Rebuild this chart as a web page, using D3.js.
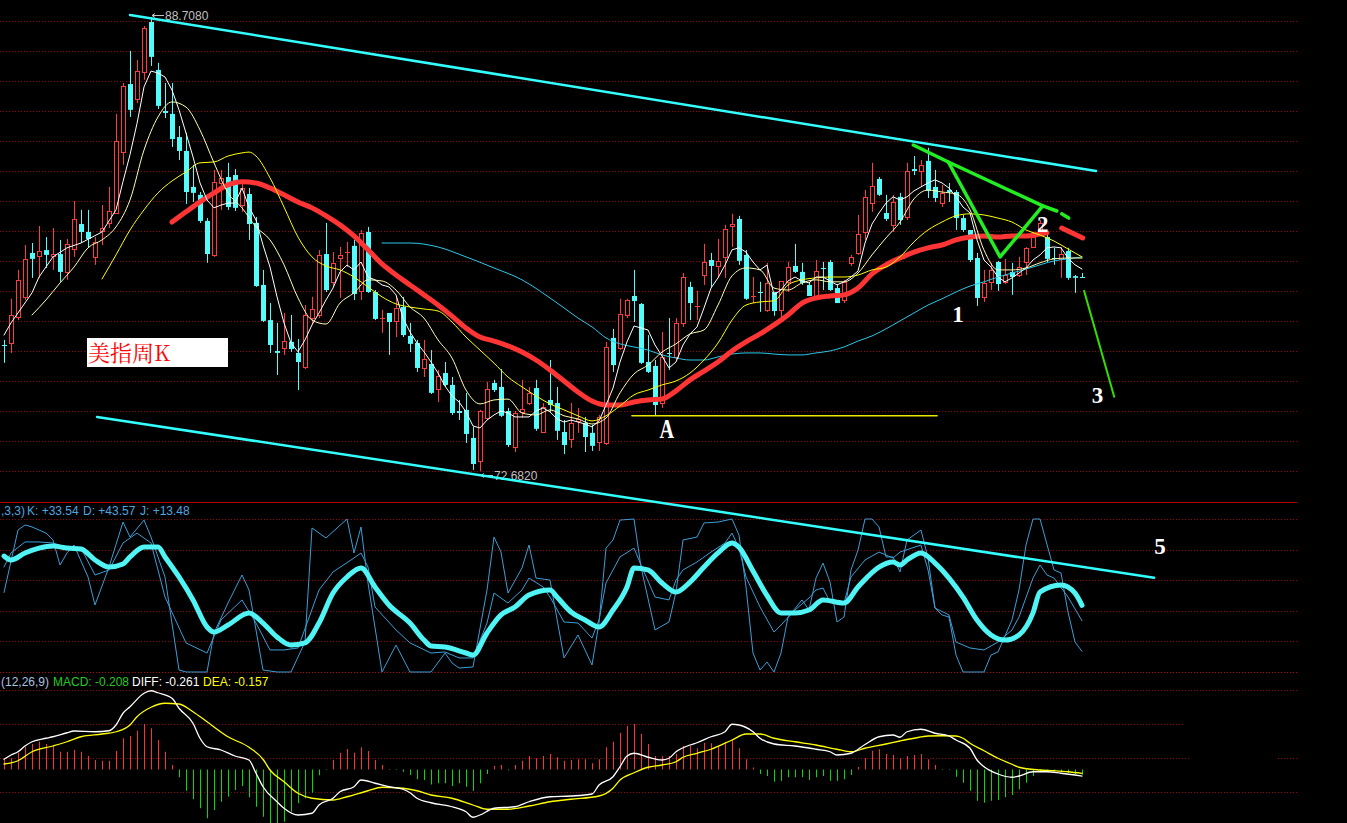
<!DOCTYPE html>
<html><head><meta charset="utf-8">
<script src="https://cdn.jsdelivr.net/npm/d3@7"></script>
<style>html,body{margin:0;padding:0;background:#000;overflow:hidden}</style>
</head><body>
<svg id="c" width="1347" height="823"></svg>
<script>
// ---------------- DATA ----------------
// weekly candles [open, high, low, close]
const ohlc = [
[77.13,77.31,76.50,77.10],[77.20,78.76,76.85,78.19],[78.12,79.78,78.01,79.43],[78.83,80.66,78.72,80.17],
[80.38,80.73,79.50,80.17],[80.27,81.33,79.50,80.45],[80.48,80.94,79.85,80.31],[80.27,81.26,79.78,80.34],
[80.34,80.84,79.36,79.71],[79.71,80.87,79.43,80.70],[80.52,82.21,80.24,81.58],[81.40,81.90,80.73,81.12],
[81.12,81.90,80.56,80.87],[80.24,80.94,79.96,80.77],[81.16,82.07,80.66,81.26],[81.44,82.71,81.26,81.86],
[81.79,85.29,81.76,84.33],[83.94,86.38,83.49,86.27],[86.34,87.51,85.18,85.43],[85.82,87.19,85.67,86.80],
[86.77,88.39,86.49,88.32],[88.53,88.708,86.98,87.30],[86.84,87.09,85.46,85.57],[85.39,86.38,85.14,85.32],
[85.29,86.38,84.12,84.40],[84.47,84.86,83.66,83.98],[83.98,84.62,82.11,82.53],[82.71,83.49,82.18,82.50],
[82.43,82.53,81.44,81.51],[81.51,81.61,80.03,80.34],[80.31,83.31,80.24,82.89],[82.85,83.31,81.90,83.03],
[83.06,83.56,81.90,82.00],[83.13,83.34,81.86,81.97],[82.07,82.85,81.83,82.67],[82.46,82.67,80.84,81.40],
[81.44,81.65,79.18,79.21],[79.25,79.78,77.94,77.98],[78.01,78.61,76.85,77.13],[76.92,77.91,76.07,76.85],
[77.03,78.26,76.78,77.27],[77.24,78.19,76.88,76.99],[76.85,77.34,75.54,76.53],[76.35,78.54,76.28,78.19],
[78.08,78.83,77.84,78.40],[78.19,80.48,78.08,80.31],[80.34,81.44,79.00,79.07],[79.36,80.41,79.18,80.03],
[80.20,80.59,78.79,80.31],[80.38,80.77,79.88,80.41],[80.63,80.84,78.72,78.93],[79.04,81.19,78.72,81.09],
[81.12,81.30,78.97,79.00],[79.00,79.07,78.01,78.05],[78.05,78.37,77.56,78.08],[78.26,78.26,76.78,77.94],
[77.98,78.83,77.41,78.44],[78.47,78.83,77.41,77.48],[77.45,77.91,76.88,77.17],[77.20,77.31,76.18,76.32],
[76.32,77.31,76.00,76.64],[76.46,76.95,75.40,75.44],[75.58,76.25,75.12,76.04],[76.14,76.53,75.65,75.72],
[75.72,76.00,74.66,74.73],[74.80,75.19,74.48,74.73],[74.84,75.44,73.67,73.99],[73.85,74.24,72.72,72.93],
[73.04,74.84,72.682,74.80],[74.55,75.83,74.48,75.58],[75.79,75.90,75.47,75.54],[75.65,76.28,74.59,74.63],
[74.80,74.91,73.53,73.60],[73.53,74.80,73.35,74.73],[74.77,75.90,74.55,74.87],[75.08,75.65,75.01,75.44],
[75.61,75.90,74.10,74.17],[74.06,75.08,74.03,74.94],[75.19,76.60,74.77,75.01],[75.08,75.65,73.78,74.10],
[74.06,74.48,73.28,73.60],[73.81,75.08,73.50,74.38],[74.45,74.91,74.03,74.52],[74.38,74.59,73.35,73.88],
[74.03,74.31,73.39,73.57],[73.71,74.66,73.39,74.59],[73.67,77.24,73.60,77.06],[77.38,77.70,76.18,76.42],
[77.03,78.76,76.95,78.23],[78.19,78.76,78.08,78.72],[78.86,79.78,77.94,78.68],[78.58,78.61,76.46,76.50],
[76.53,77.48,76.14,76.18],[76.39,76.60,74.63,75.01],[75.08,77.59,74.91,76.71],[76.85,78.08,76.25,76.81],
[76.71,78.08,76.60,77.91],[77.91,79.67,77.77,79.53],[79.18,79.36,78.01,78.61],[78.47,79.04,78.01,78.51],
[79.60,80.70,79.25,80.06],[80.13,80.38,79.18,79.92],[79.92,80.87,79.50,80.10],[80.24,81.37,79.50,81.23],
[81.33,81.76,80.59,81.40],[81.58,81.69,79.96,80.10],[80.31,80.48,78.72,78.76],[78.83,79.53,78.61,78.86],
[79.00,79.36,78.30,78.97],[78.37,80.03,78.30,79.32],[79.00,79.00,78.16,78.33],[78.37,79.39,78.08,79.39],
[79.36,80.06,79.00,79.88],[79.92,80.70,79.67,79.71],[79.71,80.03,79.25,79.32],[79.25,79.36,78.86,78.86],
[78.86,80.13,78.83,79.74],[79.85,80.06,79.07,79.81],[80.06,80.13,79.04,79.07],[79.14,79.28,78.61,78.61],
[78.72,79.43,78.61,79.36],[80.03,80.31,79.92,80.24],[80.38,81.72,80.31,81.05],[81.12,82.60,80.84,82.36],
[82.14,83.56,81.83,82.74],[82.99,83.06,82.39,82.43],[81.79,82.43,81.51,81.58],[81.37,82.43,81.12,82.18],
[82.36,82.50,81.37,81.54],[81.65,83.56,81.54,83.27],[83.34,83.80,83.13,83.27],[83.27,83.66,82.71,83.49],
[83.63,84.09,82.32,82.57],[82.71,83.31,82.18,82.32],[82.14,82.78,82.00,82.50],[82.60,82.85,82.18,82.53],
[82.53,82.60,81.19,81.61],[81.61,81.72,81.12,81.19],[81.19,81.19,80.06,80.13],[80.20,80.38,78.51,78.79],
[78.83,79.78,78.65,79.32],[79.36,80.03,79.07,79.78],[80.06,80.10,79.04,79.28],[79.36,80.17,79.28,79.60],
[79.71,80.03,78.90,79.53],[79.60,80.24,79.53,79.88],[80.06,80.59,79.60,80.56],[80.59,81.12,80.56,80.94],
[81.19,81.54,81.12,81.44],[80.94,81.09,80.06,80.17],[80.20,80.56,79.96,80.17],[80.17,80.59,79.50,80.34],
[80.45,80.56,79.43,79.50],[79.56,79.60,78.97,79.50],[79.53,79.67,79.50,79.53]
];

// moving averages: [week index, price]
const ma5 = [[0,77.48],[1,77.91],[4,78.97],[5,79.53],[7,80.24],[9,80.56],[11,80.73],[14,81.12],[16,81.9],[17,82.9],[18,83.85],[19,84.95],[20,86.24],[21,86.80],[22,86.73],[23,86.59],[24,86.13],[25,85.43],[26,84.61],[27,83.77],[28,82.85],[29,82.25],[30,81.97],[31,82.07],[32,82.14],[33,82.14],[34,82.67],[35,82.00],[36,81.54],[37,80.66],[38,79.88],[39,78.83],[40,77.91],[41,77.20],[42,76.89],[43,77.31],[44,77.84],[45,78.26],[46,78.72],[47,79.14],[48,79.71],[49,79.95],[50,79.78],[51,80.06],[52,79.53],[53,79.43],[54,79.25],[55,79.18],[56,78.90],[57,78.08],[58,77.59],[59,77.20],[60,76.89],[61,76.53],[62,76.14],[63,75.68],[64,75.33],[65,75.12],[66,74.77],[67,74.27],[68,74.20],[69,74.48],[70,74.66],[71,74.80],[72,74.73],[73,74.59],[74,74.59],[75,74.59],[76,74.80],[77,74.91],[78,74.77],[79,74.52],[80,74.41],[81,74.48],[82,74.41],[83,74.34],[84,74.24],[85,74.45],[86,75.01],[87,75.61],[88,76.53],[89,77.24],[90,77.80],[91,77.73],[92,77.66],[93,77.13],[94,76.74],[95,76.32],[96,76.53],[97,77.13],[98,77.52],[99,77.77],[100,78.44],[101,79.14],[102,79.50],[103,79.95],[104,80.49],[105,80.56],[106,80.41],[107,80.06],[108,79.78],[109,79.95],[110,78.90],[111,79.07],[112,79.39],[113,79.53],[114,79.39],[115,79.32],[116,79.53],[117,79.53],[118,79.39],[119,79.25],[120,79.36],[121,79.53],[122,79.74],[123,80.73],[124,81.40],[125,81.79],[126,82.14],[127,82.36],[128,82.25],[129,82.36],[130,82.57],[131,82.71],[132,82.85],[133,82.96],[134,82.85],[135,82.67],[136,82.36],[137,82.00],[138,81.79],[139,80.84],[140,80.13],[141,79.88],[142,79.53],[143,79.36],[144,79.50],[145,79.67],[146,79.85],[147,80.13],[148,80.31],[149,80.56],[150,80.59],[151,80.56],[152,80.20],[153,79.96],[154,79.81]];
const ma10 = [[4,78.19],[6,78.72],[8,79.32],[10,79.88],[12,80.56],[14,80.84],[16,81.30],[18,82.25],[20,84.01],[22,85.18],[24,85.71],[26,85.53],[28,84.72],[30,83.56],[32,82.50],[34,81.97],[36,81.30],[38,80.84],[40,79.96],[42,78.79],[44,78.01],[46,77.87],[48,78.61],[50,78.97],[52,79.43],[54,79.39],[56,79.07],[58,78.47],[60,78.08],[62,77.31],[64,76.67],[66,75.54],[68,75.05],[70,75.19],[72,75.22],[74,74.73],[76,74.66],[78,74.84],[80,74.63],[82,74.52],[84,74.34],[86,74.55],[88,75.44],[90,76.11],[92,76.42],[94,76.88],[96,77.17],[98,77.52],[100,77.66],[102,78.54],[104,79.57],[106,79.85],[108,79.78],[110,79.14],[112,79.07],[114,79.32],[116,79.43],[118,79.36],[120,79.36],[122,79.67],[124,80.31],[126,80.91],[128,81.47],[130,82.29],[132,82.60],[134,82.53],[136,82.46],[138,81.90],[140,80.48],[142,79.78],[144,79.78],[146,79.85],[148,80.03],[150,80.17],[152,80.20],[154,80.20]];
const ma20 = [[14,79.46],[16,80.31],[18,81.19],[20,81.90],[22,82.50],[24,82.92],[26,83.24],[28,83.56],[30,83.59],[32,83.80],[34,83.91],[35,83.94],[36,83.80],[38,83.03],[40,82.00],[42,80.94],[44,80.24],[46,79.92],[48,79.78],[50,79.53],[52,79.18],[54,78.83],[56,78.58],[58,78.47],[60,78.40],[62,78.33],[64,77.94],[66,77.41],[68,76.95],[70,76.49],[72,76.00],[74,75.65],[76,75.33],[78,75.05],[80,74.84],[82,74.63],[84,74.45],[86,74.63],[88,74.98],[90,75.37],[92,75.54],[94,75.72],[96,75.86],[98,76.14],[100,76.60],[102,77.20],[104,78.01],[106,78.54],[108,78.65],[110,78.69],[112,79.25],[114,79.43],[116,79.50],[118,79.53],[120,79.53],[122,79.60],[124,79.78],[126,79.88],[128,80.24],[130,80.77],[132,81.19],[134,81.47],[136,81.69],[138,81.76],[140,81.72],[142,81.61],[144,81.47],[146,81.19],[148,81.01],[150,80.80],[152,80.52],[154,80.24]];
const ma30 = [[24,81.47],[26,81.83],[28,82.18],[30,82.50],[32,82.78],[34,82.89],[36,82.85],[38,82.67],[40,82.43],[42,82.18],[44,81.97],[46,81.69],[48,81.37],[50,80.98],[52,80.49],[54,79.99],[56,79.60],[58,79.25],[60,78.90],[62,78.54],[64,78.15],[66,77.73],[68,77.41],[70,77.27],[72,77.10],[74,76.88],[76,76.60],[78,76.25],[80,75.86],[82,75.47],[84,75.15],[86,75.01],[88,75.01],[90,75.12],[92,75.19],[94,75.22],[96,75.51],[98,75.90],[100,76.21],[102,76.53],[104,76.92],[106,77.24],[108,77.52],[110,77.84],[112,78.19],[114,78.61],[116,78.79],[118,78.86],[120,78.90],[122,79.14],[124,79.64],[126,79.96],[128,80.20],[130,80.41],[132,80.56],[134,80.66],[136,80.84],[138,80.94],[140,80.98],[142,80.94],[144,80.98],[146,80.98],[148,81.05],[149,81.09]];
const ma60 = [[54,80.73],[58,80.73],[62,80.59],[66,80.24],[70,79.85],[74,79.43],[78,78.79],[80,78.44],[82,78.08],[84,77.77],[86,77.38],[88,77.17],[90,77.06],[92,76.95],[94,76.78],[96,76.67],[98,76.60],[100,76.60],[102,76.71],[104,76.81],[106,76.85],[108,76.85],[110,76.81],[112,76.78],[114,76.78],[116,76.85],[118,76.92],[120,77.06],[122,77.27],[124,77.45],[126,77.70],[128,77.98],[130,78.26],[132,78.54],[134,78.76],[136,79.00],[138,79.21],[140,79.36],[142,79.53],[144,79.67],[146,79.81],[148,79.96],[150,80.10],[152,80.17],[154,80.24]];

// KDJ(9,3,3): [week index, value]
const kdjK = [[0,68.6],[1,77.8],[3,85.0],[5,85.0],[7,84.3],[9,81.0],[11,81.0],[13,63.4],[15,66.7],[17,84.3],[19,90.8],[21,84.3],[23,49.0],[26,19.0],[29,12.4],[31,34.0],[34,47.1],[36,32.0],[38,14.4],[40,14.4],[42,15.7],[45,53.6],[47,65.4],[50,74.5],[51,77.8],[52,68.6],[53,42.5],[56,27.5],[58,19.0],[61,12.4],[63,13.1],[65,9.2],[67,9.2],[69,32.0],[70,51.6],[72,45.1],[74,53.6],[75,61.4],[77,55.6],[78,49.0],[80,32.7],[82,32.0],[84,22.2],[85,34.0],[86,58.2],[88,75.2],[90,81.0],[91,69.9],[93,49.0],[95,47.1],[96,60.1],[97,66.7],[99,71.9],[101,78.4],[103,84.3],[104,90.8],[105,81.0],[106,62.1],[108,42.5],[110,26.1],[111,30.7],[113,40.5],[115,48.4],[116,53.6],[117,54.9],[118,45.8],[120,45.1],[121,62.1],[123,73.2],[125,78.4],[127,74.5],[128,78.4],[131,83.0],[132,66.7],[133,41.8],[135,37.3],[136,19.6],[138,15.7],[140,14.4],[142,19.6],[144,27.5],[145,35.9],[147,61.4],[148,69.9],[149,63.4],[150,61.4],[152,49.0],[154,33.54]];
const kdjD = [[0,75.8],[1,73.2],[3,77.8],[5,81.0],[7,82.4],[9,81.0],[11,80.4],[13,73.2],[15,68.6],[17,70.6],[18,75.2],[20,81.7],[22,81.7],[23,75.2],[25,62.1],[27,47.1],[29,29.4],[30,26.1],[32,30.7],[35,38.6],[37,32.0],[39,22.9],[41,17.6],[43,19.0],[45,32.0],[47,51.6],[49,62.1],[51,68.0],[53,55.6],[55,43.8],[58,32.0],[60,20.9],[61,17.0],[63,16.3],[66,12.4],[67,11.1],[69,25.5],[71,37.3],[73,42.5],[75,50.3],[78,53.6],[79,49.0],[81,39.2],[83,34.0],[85,29.4],[87,40.5],[89,55.6],[90,68.0],[92,66.7],[94,58.2],[96,52.3],[98,58.8],[100,68.6],[102,77.8],[104,84.3],[105,81.5],[107,66.0],[109,50.0],[111,38.6],[113,38.6],[115,40.5],[117,47.1],[120,45.1],[122,55.6],[125,68.6],[127,71.9],[128,69.9],[129,73.2],[131,77.8],[133,71.2],[135,61.4],[137,49.0],[139,34.0],[141,24.2],[143,20.9],[145,24.2],[147,38.6],[148,52.3],[151,56.9],[153,51.6],[154,43.57]];
const kdjJ = [[0,52],[2,92.8],[3,96.1],[4,94.8],[6,90.8],[7,86.3],[8,69.9],[9,77.8],[10,83.0],[12,62.1],[13,43.8],[15,68.6],[17,98.0],[18,88.2],[20,99.3],[21,88.2],[23,62.1],[25,1.3],[26,0],[29,0],[30,25.5],[32,45.1],[34,63.4],[35,53.6],[37,1.3],[39,0],[41,0],[43,19.6],[44,94.1],[46,87.6],[49,100],[50,77.8],[51,94.8],[52,58.2],[54,0],[56,17.6],[58,0],[61,0],[63,12.4],[64,5.9],[65,2.6],[67,3.3],[69,53.6],[70,88.2],[71,78.4],[72,51.6],[74,68.0],[75,83.0],[76,61.4],[78,60.1],[80,9.2],[82,24.2],[84,4.6],[85,32.0],[86,81.0],[87,86.3],[88,99.3],[90,100],[91,68.6],[93,27.5],[95,32.7],[96,52.3],[97,86.3],[99,88.2],[100,97.4],[102,98.0],[104,100],[105,89.5],[106,55.6],[107,12.4],[108,1.3],[109,6.5],[110,0],[111,12.4],[112,35.9],[114,47.1],[115,40.5],[116,61.4],[117,71.2],[118,58.8],[119,32.7],[120,35.9],[121,66.7],[122,79.7],[123,100],[124,100],[125,94.8],[126,75.2],[127,75.2],[128,65.4],[129,86.3],[131,92.8],[132,74.5],[133,41.8],[134,37.3],[135,35.9],[136,11.1],[137,0],[140,0],[141,11.1],[142,13.1],[144,34.0],[145,53.6],[146,83.0],[147,100],[148,100],[150,66.7],[151,64.7],[152,39.2],[153,19.6],[154,13.48]];

// MACD(12,26,9)
const macdBar = [0.41,0.45,0.67,0.89,1.02,1.11,1.02,0.94,0.71,0.71,0.78,0.71,0.54,0.38,0.35,0.35,0.74,1.25,1.34,1.55,1.82,1.65,1.18,0.71,0.18,
-0.31,-0.85,-1.19,-1.55,-1.95,-1.62,-1.29,-1.09,-0.82,-0.66,-1.11,-1.49,-1.89,-2.3,-2.2,-2.09,-1.69,-1.35,-1.15,-0.93,-0.23,-0.02,
0.38,0.67,0.82,0.67,0.89,0.74,0.38,0.18,
-0.02,-0.02,-0.09,-0.22,-0.39,-0.42,-0.6,-0.55,-0.55,-0.66,-0.55,-0.69,-0.85,-0.55,-0.18,
0.14,0.18,-0.03,0.18,0.35,0.54,0.45,0.54,0.62,0.49,0.35,0.38,0.41,0.41,0.25,0.41,0.89,1.11,1.47,1.74,1.82,1.42,1.02,0.54,0.54,0.54,0.62,0.94,0.94,0.85,1.07,1.05,0.94,1.11,1.18,0.85,0.41,0.08,
-0.18,-0.26,-0.49,-0.45,-0.31,-0.31,-0.31,-0.42,-0.31,-0.26,-0.45,-0.45,-0.39,-0.22,
0.10,0.45,0.75,0.81,0.62,0.58,0.45,0.54,0.58,0.62,0.41,0.18,
-0.02,-0.02,-0.29,-0.53,-0.85,-1.25,-1.33,-1.25,-1.22,-1.11,-1.02,-0.79,-0.53,-0.26,-0.10,-0.06,-0.05,-0.10,-0.14,-0.18,-0.208];
const diff = [[0,0.41],[1,0.58],[2,0.71],[3,0.94],[4,1.11],[6,1.25],[7,1.31],[9,1.47],[10,1.54],[13,1.51],[15,1.55],[16,1.78],[17,2.25],[18,2.51],[20,3.05],[21,3.15],[22,3.07],[24,2.85],[25,2.45],[27,1.85],[28,1.25],[29,0.91],[31,0.78],[33,0.54],[35,0.38],[36,-0.15],[37,-0.69],[39,-1.29],[40,-1.55],[42,-1.82],[44,-1.75],[45,-1.42],[47,-1.15],[48,-0.89],[50,-0.69],[51,-0.42],[53,-0.55],[55,-0.69],[57,-0.79],[58,-0.93],[59,-1.15],[61,-1.33],[64,-1.49],[66,-1.69],[67,-1.91],[68,-1.82],[70,-1.55],[73,-1.49],[75,-1.29],[78,-1.09],[81,-1.06],[84,-0.98],[85,-0.62],[87,-0.29],[88,0.11],[89,0.54],[90,0.65],[92,0.49],[94,0.38],[95,0.45],[96,0.71],[98,0.98],[99,1.07],[101,1.31],[103,1.51],[104,1.81],[105,1.78],[107,1.51],[108,1.25],[110,1.02],[113,0.94],[116,0.81],[118,0.71],[119,0.58],[121,0.65],[123,1.0],[125,1.31],[127,1.38],[128,1.29],[129,1.51],[131,1.61],[133,1.45],[135,1.34],[136,1.18],[138,0.85],[139,0.38],[140,0.11],[142,-0.18],[144,-0.31],[145,-0.26],[147,-0.09],[149,-0.09],[151,-0.15],[153,-0.22],[154,-0.261]];
const dea = [[0,0.22],[2,0.35],[4,0.71],[7,0.94],[9,1.11],[11,1.31],[14,1.42],[16,1.51],[18,1.78],[19,2.11],[21,2.49],[23,2.65],[25,2.62],[27,2.31],[29,1.91],[32,1.31],[35,0.89],[37,0.41],[38,-0.02],[40,-0.49],[42,-0.95],[44,-1.15],[47,-1.22],[49,-1.09],[52,-0.85],[54,-0.71],[57,-0.75],[59,-0.85],[61,-1.02],[64,-1.15],[67,-1.42],[69,-1.59],[72,-1.59],[75,-1.46],[78,-1.29],[81,-1.19],[85,-1.06],[87,-0.75],[88,-0.42],[90,-0.13],[92,0.09],[94,0.18],[96,0.31],[97,0.49],[99,0.65],[101,0.81],[104,1.18],[106,1.42],[108,1.42],[110,1.25],[113,1.11],[116,0.98],[119,0.81],[121,0.71],[123,0.85],[126,1.02],[128,1.14],[130,1.25],[132,1.34],[134,1.35],[136,1.34],[137,1.25],[138,1.05],[140,0.75],[142,0.45],[144,0.21],[145,0.09],[148,-0.02],[150,-0.05],[152,-0.09],[154,-0.157]];

// hand-drawn annotations: [week index, price]
const trendUpper = [[18,88.78],[156,83.27]];
const trendLower = [[13.3,74.59],[164.3,68.91]];
const supportA = [[89.7,74.63],[133.3,74.63]];
const greenTop = [[129.9,84.19],[134.9,83.59],[148.4,82.04],[150.4,81.86]];
const greenZig = [[134.9,83.59],[142.3,80.24],[148.4,82.04]];
const greenDash = [[151.1,81.76],[152.1,81.61]];
const greenDown = [[154.3,79.04],[158.6,75.30]];
const redProj = [[151.1,81.26],[154.1,80.91]];
const labels = [
  {t:"A", i:94.7, p:73.83, big:true},
  {t:"1", i:136.3, p:77.94},
  {t:"2", i:148.4, p:81.12},
  {t:"3", i:156.2, p:75.08}
];
const title = "美指周K";
const kdjLabel = {name:",3,3)", K:"+33.54", D:"+43.57", J:"+13.48"};
const macdLabel = {name:"(12,26,9)", MACD:"-0.208", DIFF:"-0.261", DEA:"-0.157"};

// ---------------- DRAW ----------------
const W = 1347, H = 823;
const svg = d3.select('#c');
svg.append('rect').attr('width', W).attr('height', H).attr('fill', '#000');

const x = d3.scaleLinear().domain([0, 154]).range([4, 1082]);
const yP = d3.scaleLinear().domain([72.682, 88.708]).range([471, 17]);
const yK = d3.scaleLinear().domain([0, 100]).range([672, 519]);
const yM = d3.scaleLinear().domain([0, 1]).range([769.5, 744.5]);

const grid = svg.append('g');
function hline(y, x1, x2, dotted, color) {
  grid.append('line').attr('x1', x1).attr('x2', x2).attr('y1', y).attr('y2', y)
    .attr('stroke', color || '#9a0000').attr('stroke-width', 1)
    .attr('stroke-dasharray', dotted ? '1,2' : null);
}
// price panel grid
for (let k = 0; k < 16; k++) hline(21.5 + 30 * k, 0, 1297, true);
hline(502.5, 0, 1297, false, '#b00000');
// KDJ grid
[20, 40, 60, 80, 100].forEach(v => hline(Math.round(yK(v)) + 0.5, 0, 1297, true));
hline(672.5, 0, 1297, true, '#c00000');
// MACD grid
hline(690.5, 0, 1297, true);
hline(724.5, 0, 1185, true);
hline(758.5, 0, 1191, true); hline(758.5, 1278, 1297, true);
hline(792.5, 0, 1297, true);

// candles
const RED = '#ff3c3c', CYAN = '#54fcfc';
const cg = svg.append('g');
ohlc.forEach((d, i) => {
  const [o, h, l, c] = d;
  const xc = Math.round(x(i)) + 0.5;
  const up = c > o;
  const col = up ? RED : CYAN;
  const yt = yP(Math.max(o, c)), yb = yP(Math.min(o, c));
  if (up) {
    cg.append('line').attr('x1', xc).attr('x2', xc).attr('y1', yP(h)).attr('y2', yt).attr('stroke', col);
    cg.append('line').attr('x1', xc).attr('x2', xc).attr('y1', yb).attr('y2', yP(l)).attr('stroke', col);
    if (yb - yt < 1.5) {
      cg.append('line').attr('x1', xc - 2.5).attr('x2', xc + 2.5).attr('y1', Math.round(yt) + 0.5).attr('y2', Math.round(yt) + 0.5).attr('stroke', col);
    } else {
      cg.append('rect').attr('x', xc - 2).attr('y', Math.round(yt) + 0.5).attr('width', 4)
        .attr('height', Math.max(1, Math.round(yb - yt))).attr('fill', '#000').attr('stroke', col);
    }
  } else {
    cg.append('line').attr('x1', xc).attr('x2', xc).attr('y1', yP(h)).attr('y2', yP(l)).attr('stroke', col);
    if (yb - yt < 1.5) {
      cg.append('line').attr('x1', xc - 2.5).attr('x2', xc + 2.5).attr('y1', Math.round(yt) + 0.5).attr('y2', Math.round(yt) + 0.5).attr('stroke', col);
    } else {
      cg.append('rect').attr('x', xc - 2.5).attr('y', yt).attr('width', 5)
        .attr('height', yb - yt).attr('fill', col);
    }
  }
});

function drawLine(data, ys, color, width, curve) {
  const ln = d3.line().x(d => x(d[0])).y(d => ys(d[1])).curve(curve || d3.curveLinear);
  svg.append('path').attr('d', ln(data)).attr('fill', 'none').attr('stroke', color)
    .attr('stroke-width', width).attr('stroke-linejoin', 'round').attr('stroke-linecap', 'round');
}
// moving averages
drawLine(ma60, yP, '#28c8e8', 1, d3.curveMonotoneX);
drawLine(ma30, yP, '#ff3434', 5, d3.curveMonotoneX);
drawLine(ma20, yP, '#ffff00', 1, d3.curveMonotoneX);
drawLine(ma10, yP, '#ffffb0', 1, d3.curveMonotoneX);
drawLine(ma5, yP, '#ffffff', 1);
drawLine(redProj, yP, '#ff3434', 5);

// hi / lo markers
const hiIdx = d3.maxIndex(ohlc, d => d[1]), loIdx = d3.minIndex(ohlc, d => d[2]);
function marker(i, v, yOff) {
  const x0 = Math.round(x(i)) + 1, y0 = Math.round(yP(v) + yOff) + 0.5;
  svg.append('path').attr('d', `M${x0 + 12},${y0}H${x0}M${x0 + 3},${y0 - 2}L${x0},${y0}L${x0 + 3},${y0 + 2}`)
    .attr('stroke', '#c0c0c0').attr('fill', 'none');
  svg.append('text').attr('x', x0 + 13).attr('y', y0 + 4.5).attr('fill', '#c0c0c0')
    .attr('font-family', 'Liberation Sans, Arial, sans-serif').attr('font-size', 12)
    .text(d3.format('.4f')(v));
}
marker(hiIdx, ohlc[hiIdx][1], -2);
marker(loIdx, ohlc[loIdx][2], 4);

// KDJ
drawLine(kdjJ, yK, '#3a9fd8', 1);
drawLine(kdjK, yK, '#3a9fd8', 1);
drawLine(kdjD, yK, '#50f4f4', 5, d3.curveMonotoneX);

// MACD
const mg = svg.append('g');
macdBar.forEach((v, i) => {
  const xc = Math.round(x(i)) + 0.5;
  mg.append('line').attr('x1', xc).attr('x2', xc).attr('y1', yM(0)).attr('y2', yM(v))
    .attr('stroke', v >= 0 ? '#ff3232' : '#00dd00').attr('stroke-width', 1);
});
drawLine(dea, yM, '#ffff00', 1.3, d3.curveMonotoneX);
drawLine(diff, yM, '#ffffff', 1.3, d3.curveMonotoneX);

// annotation lines
drawLine(trendUpper, yP, '#33ffff', 2.5);
drawLine(trendLower, yP, '#33ffff', 2.5);
drawLine(supportA, yP, '#e8e800', 1.5);
drawLine(greenTop, yP, '#22ee22', 3.5);
drawLine(greenZig, yP, '#22ee22', 3.5);
drawLine(greenDash, yP, '#22ee22', 3.5);
drawLine(greenDown, yP, '#33dd00', 2);

// text annotations
labels.forEach(l => {
  const t = svg.append('text').attr('x', x(l.i)).attr('y', yP(l.p)).attr('fill', '#fff')
    .attr('font-family', 'Liberation Serif, Times New Roman, serif').attr('font-weight', 'bold')
    .attr('font-size', l.big ? 28 : 23).attr('text-anchor', 'middle').text(l.t);
  if (l.big) t.attr('transform', `translate(${x(l.i)},${yP(l.p)}) scale(0.72,1) translate(${-x(l.i)},${-yP(l.p)})`);
});
// "5" in KDJ panel
svg.append('text').attr('x', 1160).attr('y', yK(77)).attr('fill', '#fff')
  .attr('font-family', 'Liberation Serif, Times New Roman, serif').attr('font-weight', 'bold')
  .attr('font-size', 23).attr('text-anchor', 'middle').text('5');

// title box
svg.append('rect').attr('x', 87).attr('y', 338).attr('width', 141).attr('height', 29).attr('fill', '#fff');
svg.append('text').attr('x', 88).attr('y', 361).attr('fill', '#ff0000')
  .attr('font-family', 'Noto Serif CJK SC, Noto Sans CJK SC, serif').attr('font-size', 22).text(title);

// KDJ label
const kt = svg.append('text').attr('y', 515).attr('font-family', 'Liberation Sans, Arial, sans-serif')
  .attr('font-size', 12).attr('fill', '#4aa8e0');
kt.append('tspan').attr('x', 1).text(kdjLabel.name);
kt.append('tspan').attr('x', 27).text('K: ' + kdjLabel.K);
kt.append('tspan').attr('x', 83).text('D: ' + kdjLabel.D);
kt.append('tspan').attr('x', 140).text('J: ' + kdjLabel.J);

// MACD label
const mt = svg.append('text').attr('y', 686).attr('font-family', 'Liberation Sans, Arial, sans-serif')
  .attr('font-size', 12);
mt.append('tspan').attr('x', 1).attr('fill', '#a8c0e0').text(macdLabel.name);
mt.append('tspan').attr('x', 53).attr('fill', '#22cc22').text('MACD: ' + macdLabel.MACD);
mt.append('tspan').attr('x', 132).attr('fill', '#ffffff').text('DIFF: ' + macdLabel.DIFF);
mt.append('tspan').attr('x', 203).attr('fill', '#ffff00').text('DEA: ' + macdLabel.DEA);
</script>
</body></html>
